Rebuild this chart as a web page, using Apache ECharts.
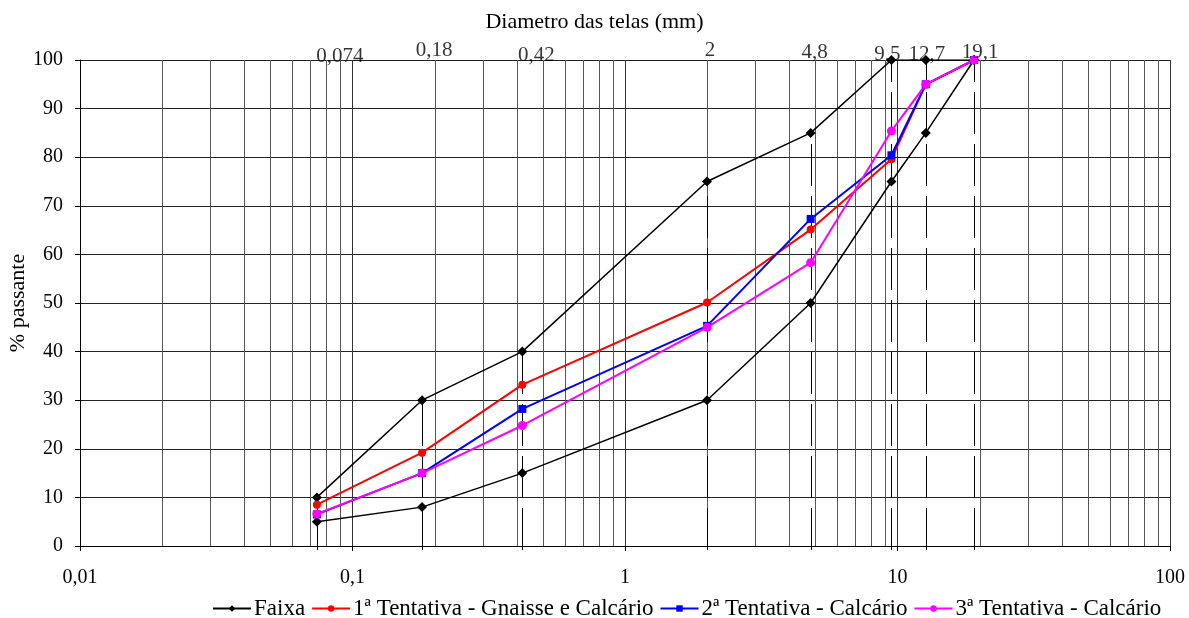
<!DOCTYPE html>
<html>
<head>
<meta charset="utf-8">
<script src="https://cdn.jsdelivr.net/npm/echarts@6/dist/echarts.min.js"></script>
<style>
html,body{margin:0;padding:0;background:#fff;}
#chart{width:1189px;height:618px;}
</style>
</head>
<body>
<div id="chart"></div>
<script>
// ---- data ----
const sieveSizes = [0.074, 0.18, 0.42, 2, 4.8, 9.5, 12.7, 19.1];
const sieveLabels = ['0,074', '0,18', '0,42', '2', '4,8', '9,5', '12,7', '19,1'];
const faixaUpper = [10, 30, 40, 75, 85, 100, 100, 100];
const faixaLower = [5, 8, 15, 30, 50, 75, 85, 100];
const tentativa1 = [8.5, 19.2, 33.2, 50.1, 65.1, 79.6, 95, 100];
const tentativa2 = [6.5, 15, 28.2, 45.3, 67.3, 80.4, 95, 100];
const tentativa3 = [6.6, 15, 24.8, 45, 58.3, 85.4, 95, 100];
const seriesNames = ['Faixa', '1ª Tentativa - Gnaisse e Calcário', '2ª Tentativa - Calcário', '3ª Tentativa - Calcário'];
const minorGridTicks = [0.02,0.03,0.04,0.05,0.06,0.07,0.08,0.09,0.2,0.3,0.4,0.5,0.6,0.7,0.8,0.9,2,3,4,5,6,7,8,9,20,30,40,50,60,70,80,90];

// ---- build ----
const FONT = 'Liberation Serif';
const pair = (xs, ys) => xs.map((x, i) => [x, ys[i]]);
const labelOffsets = [[23, 6.5], [12, 0.5], [14, 5.5], [3, 0.5], [4, 2.5], [-4, 4.5], [1, 4.5], [6, 2.5]];

function vline(color, dash, extend) {
  return function (params, api) {
    const x = api.value(0), top = api.value(1);
    const p0 = api.coord([x, 0]);
    const p1 = api.coord([x, top]);
    const px = Math.round(p0[0]) + 0.5;
    return {
      type: 'line',
      shape: { x1: px, y1: p0[1] + extend, x2: px, y2: p1[1] },
      style: { stroke: color, lineWidth: 1, lineDash: dash }
    };
  };
}

const chart = echarts.init(document.getElementById('chart'), null, { renderer: 'canvas' });
const option = {
  animation: false,
  backgroundColor: '#fff',
  title: {
    text: 'Diametro das telas (mm)',
    left: 'center',
    top: 6,
    textStyle: { fontFamily: FONT, fontSize: 22, fontWeight: 'normal', color: '#000' }
  },
  legend: {
    data: seriesNames,
    left: 207,
    top: 592,
    itemGap: 6,
    itemWidth: 38,
    itemHeight: 8,
    textStyle: { fontFamily: FONT, fontSize: 23, color: '#000', padding: [0, 0, 0, -2] }
  },
  grid: { left: 80, right: 19, top: 60, bottom: 72, containLabel: false, outerBoundsMode: 'none' },
  xAxis: {
    type: 'log',
    logBase: 10,
    min: 0.01,
    max: 100,
    axisLine: { show: true, lineStyle: { color: '#000', width: 1 } },
    axisTick: { show: true, length: 5, lineStyle: { color: '#000' } },
    axisLabel: {
      fontFamily: FONT, fontSize: 20, color: '#000', margin: 22,
      formatter: v => String(+v.toPrecision(6)).replace('.', ',')
    },
    splitLine: { show: true, lineStyle: { color: '#333', width: 1 } }
  },
  yAxis: {
    type: 'value',
    min: 0,
    max: 100,
    interval: 10,
    name: '% passante',
    nameLocation: 'middle',
    nameRotate: 90,
    nameGap: 51,
    nameMoveOverlap: false,
    nameTextStyle: { fontFamily: FONT, fontSize: 22, color: '#000' },
    axisLine: { show: true, lineStyle: { color: '#000', width: 1 } },
    axisTick: { show: true, length: 5, lineStyle: { color: '#000' } },
    axisLabel: { fontFamily: FONT, fontSize: 20, color: '#000', margin: 17 },
    splitLine: { show: true, lineStyle: { color: '#222', width: 1 } }
  },
  series: [
    {
      type: 'custom', name: 'minorGrid', silent: true, z: 1,
      renderItem: vline('#555', null, 0),
      data: minorGridTicks.map(v => [v, 100])
    },
    {
      type: 'custom', name: 'sieveLines', silent: true, z: 1,
      renderItem: vline('#000', [42, 10], 4),
      data: pair(sieveSizes, faixaUpper)
    },
    {
      type: 'scatter', name: 'sieveTop', silent: true, z: 5,
      symbolSize: 0,
      data: sieveSizes.map((x, i) => ({
        value: [x, 100],
        label: { offset: labelOffsets[i] }
      })),
      label: {
        show: true, position: 'top', distance: 0,
        fontFamily: FONT, fontSize: 21, color: '#000',
        formatter: p => sieveLabels[p.dataIndex]
      }
    },
    {
      type: 'line', name: seriesNames[0], z: 3,
      data: pair(sieveSizes, faixaUpper),
      symbol: 'diamond', symbolSize: 10,
      lineStyle: { color: '#000', width: 1.5 },
      itemStyle: { color: '#000' }
    },
    {
      type: 'line', name: seriesNames[0], z: 3,
      data: pair(sieveSizes, faixaLower),
      symbol: 'diamond', symbolSize: 10,
      lineStyle: { color: '#000', width: 1.5 },
      itemStyle: { color: '#000' }
    },
    {
      type: 'line', name: seriesNames[1], z: 3,
      data: pair(sieveSizes, tentativa1),
      symbol: 'circle', symbolSize: 8,
      lineStyle: { color: '#ff0000', width: 2 },
      itemStyle: { color: '#ff0000' }
    },
    {
      type: 'line', name: seriesNames[2], z: 3,
      data: pair(sieveSizes, tentativa2),
      symbol: 'rect', symbolSize: 8,
      lineStyle: { color: '#0000ff', width: 2 },
      itemStyle: { color: '#0000ff' }
    },
    {
      type: 'line', name: seriesNames[3], z: 3,
      data: pair(sieveSizes, tentativa3),
      symbol: 'circle', symbolSize: 9,
      lineStyle: { color: '#ff00ff', width: 2 },
      itemStyle: { color: '#ff00ff' }
    }
  ]
};
chart.setOption(option);
</script>
</body>
</html>
